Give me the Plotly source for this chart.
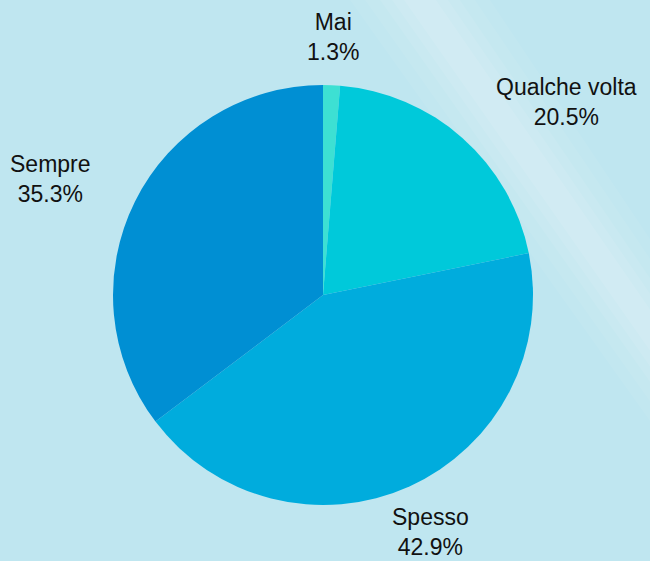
import plotly.graph_objects as go

labels = ["Mai", "Qualche volta", "Spesso", "Sempre"]
values = [1.3, 20.5, 42.9, 35.3]
colors = ["#3de0d3", "#00c9da", "#00acdd", "#008fd3"]

# label centre offsets (px) from the pie centre: (right, up)
label_offset = [(10, 258), (243, 193), (107, -237), (-272, 116)]

W, H = 650, 561
ml, mr, mt, mb = 113, 117, 85, 56
dom = 420.0  # pie domain size in px
FONT = "Liberation Sans, Arial, sans-serif"
BG = "#bfe6f0"

fig = go.Figure()

fig.add_trace(go.Pie(
    labels=labels,
    values=values,
    sort=False,
    direction="clockwise",
    rotation=0,
    marker=dict(colors=colors, line=dict(width=0)),
    textinfo="none",
    showlegend=False,
    hoverinfo="label+percent",
))

total = sum(values)
for lab, v, (dx, dy) in zip(labels, values, label_offset):
    fig.add_annotation(
        x=0.5 + dx / dom, y=0.5 + dy / dom, xref="paper", yref="paper",
        text=f"{lab}<br>{v / total * 100:.1f}%",
        showarrow=False, align="center",
        xanchor="center", yanchor="middle",
        font=dict(size=23, color="#111111", family=FONT),
    )


def px2paper(px, py):
    return (px - ml) / dom, (H - mb - py) / dom


# soft lighter diagonal streak, built from stacked translucent bands
bands = [
    (70, 0.06), (55, 0.06), (40, 0.07), (28, 0.08), (16, 0.09),
]
cx0, cy0, cx1, cy1 = 420, 0, 650, 330  # streak axis
for half, a in bands:
    pts = [(cx0 - half, cy0), (cx0 + half, cy0), (cx1, cy1 - half * 1.3), (cx1, cy1 + half * 1.3)]
    path = []
    for i, (px, py) in enumerate(pts):
        xp, yp = px2paper(px, py)
        path.append(("M" if i == 0 else "L") + f" {xp:.4f} {yp:.4f}")
    path.append("Z")
    fig.add_shape(type="path", xref="paper", yref="paper", path=" ".join(path),
                  fillcolor=f"rgba(255,255,255,{a})", line_width=0, layer="below")

fig.update_layout(
    width=W, height=H,
    margin=dict(l=ml, r=mr, t=mt, b=mb),
    paper_bgcolor=BG,
    plot_bgcolor=BG,
    font=dict(family=FONT),
)

fig.write_html(
    "out.html",
    config={"displayModeBar": False},
    post_script=f"document.body.style.margin='0';document.body.style.background='{BG}';",
)
